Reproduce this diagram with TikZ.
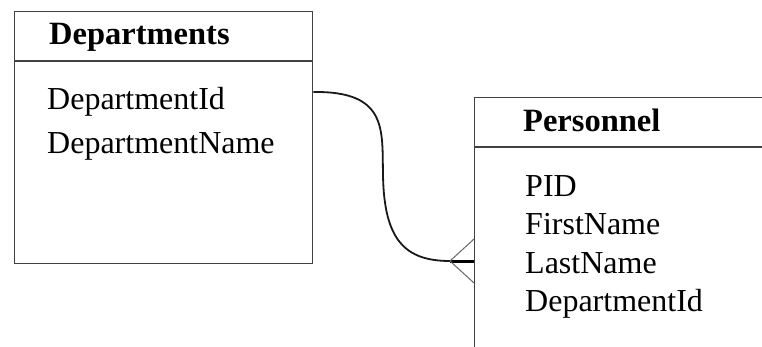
\documentclass[tikz,border=0pt]{standalone}
\usepackage{fontspec}
\setmainfont{Liberation Serif}
\begin{document}
\begin{tikzpicture}[x=1pt,y=-1pt,
  box/.style={draw=black!75,line width=1.3pt,rectangle,inner sep=0pt,anchor=north west},
  sep/.style={draw=black!75,line width=1.3pt},
  field/.style={anchor=base west,inner sep=0pt,font=\fontsize{32}{38}\selectfont},
  title/.style={anchor=base west,inner sep=0pt,font=\fontsize{32.5}{38}\selectfont\bfseries},
  rel/.style={draw=black!90,line width=1.8pt},
  crow/.style={draw=black!60,line width=1pt}]
\clip (0,0) rectangle (762,347);
\fill[white] (0,0) rectangle (762,347);
% Departments
\node[box,minimum width=298pt,minimum height=252pt] (dep) at (14,11) {};
\draw[sep] ([yshift=-50pt]dep.north west) -- ([yshift=-50pt]dep.north east);
\node[title] (dept) at (49,45) {Departments};
\node[field] (d1) at (47,110) {DepartmentId};
\node[field] (d2) at (47,154) {DepartmentName};
% Personnel
\node[box,minimum width=400pt,minimum height=300pt] (per) at (474,97) {};
\draw[sep] ([yshift=-50pt]per.north west) -- ([yshift=-50pt]per.north east);
\node[title] (pert) at (523,132) {Personnel};
\node[field] (p1) at (525,197) {PID};
\node[field] (p2) at (525,235) {FirstName};
\node[field] (p3) at (525,273) {LastName};
\node[field] (p4) at (525,311) {DepartmentId};
% relation
\coordinate (src) at ([yshift=-81pt]dep.north east);
\coordinate (dst) at ([yshift=-164pt]per.north west);
\coordinate (tip) at ([xshift=-24pt]dst);
\draw[rel] (src) .. controls (388,91) and (382,130) .. (383,175)
  .. controls (384,240) and (405,261) .. (tip);
\draw[line width=3pt,black] (tip) -- (dst);
\draw[crow] ([yshift=22pt]dst) -- (tip) -- ([yshift=-22pt]dst);
\end{tikzpicture}
\end{document}
